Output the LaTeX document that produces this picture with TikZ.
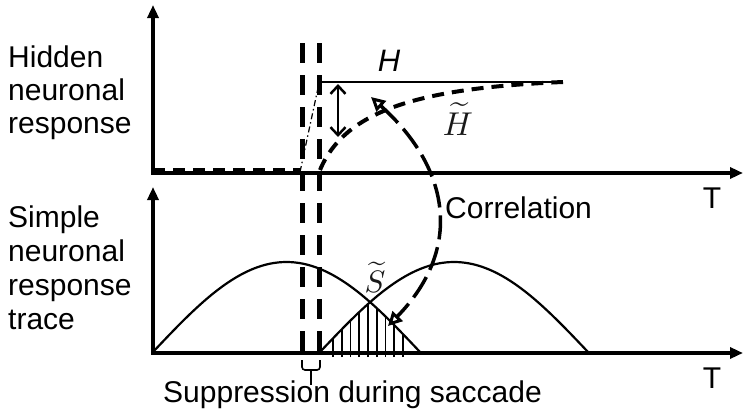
\documentclass[tikz,border=0pt]{standalone}
\usepackage{fontspec}
\usepackage{graphicx}
\setmainfont{Liberation Sans}
\usetikzlibrary{arrows.meta}
\newcommand{\bigmath}[2]{\scalebox{#1}{$\widetilde{#2}$}}
\begin{document}
\begin{tikzpicture}[x=1pt,y=-1pt,
  axis/.style={line width=3.5pt, line join=miter, {Triangle[length=13pt,width=11pt]}-{Triangle[length=13pt,width=11pt]}},
  vdash/.style={line width=5pt, dash pattern=on 20pt off 12pt},
  hdash/.style={line width=4pt, dash pattern=on 12pt off 8pt},
  corr/.style={line width=3.5pt, dash pattern=on 24pt off 8pt},
  thinline/.style={line width=2.2pt},
  lbl/.style={font=\fontsize{30}{33}\selectfont, inner sep=0pt},
  mlbl/.style={inner sep=0pt, text=black!90}
]
\useasboundingbox (0,0) rectangle (744,415);

% ---- axes ----
\coordinate (y1) at (153,5);
\coordinate (o1) at (153,173);
\coordinate (x1) at (743,173);
\coordinate (y2) at (153,187);
\coordinate (o2) at (153,353);
\coordinate (x2) at (743,353);
\draw[axis] (y1) -- (o1) -- (x1);
\draw[axis] (y2) -- (o2) -- (x2);

% ---- axis labels ----
\node[lbl, align=left, anchor=north west] (hid) at (8,46) {Hidden\\neuronal\\response};
\node[lbl, font=\fontsize{30}{34}\selectfont, align=left, anchor=north west] (sim) at (8,206) {Simple\\neuronal\\response\\trace};
\node[lbl] (T1) at (712,198) {T};
\node[lbl] (T2) at (712,378) {T};

% ---- top plot ----
\coordinate (b0) at (153,170);
\coordinate (b1) at (300,170);
\draw[hdash] (b0) -- (b1);

\coordinate (v1t) at (302,43);
\coordinate (v1b) at (302,360);
\coordinate (v2t) at (319,43);
\coordinate (v2b) at (319,360);
\draw[vdash] (v1t) -- (v1b);
\draw[vdash] (v2t) -- (v2b);

\coordinate (dd0) at (300,172);
\coordinate (dd1) at (318,88);
\draw[line width=1.2pt, dash pattern=on 6pt off 3pt on 1.5pt off 3pt] (dd0) -- (dd1);

\coordinate (h0) at (320,91);
\coordinate (h1) at (320,82);
\coordinate (h2) at (563,82);
\draw[line width=2.5pt, line join=miter] (h0) -- (h1) -- (h2);
\node[lbl, font=\fontsize{31}{33}\selectfont\itshape] (H) at (389,61) {H};

\coordinate (da0) at (338,84);
\coordinate (da1) at (338,137);
\draw[line width=2.5pt, {Straight Barb[length=8pt,width=15pt]}-{Straight Barb[length=8pt,width=15pt]}] (da0) -- (da1);

\coordinate (ht0) at (320,170);
\draw[hdash] (ht0) .. controls (345,110) and (420,88) .. (h2);
\node[mlbl] (Ht) at (458,119) {\bigmath{3.3}{H}};

% ---- correlation arrow ----
\coordinate (c0) at (371,97);
\coordinate (c1) at (388,326);
\draw[corr, {Triangle[open,length=14pt,width=14pt,line width=3pt]}-{Triangle[open,length=14pt,width=14pt,line width=3pt]}] (c0) .. controls (452,170) and (462,250) .. (c1);
\node[lbl, anchor=west] (corrlbl) at (445,208) {Correlation};

% ---- bottom plot ----
\draw[thinline] plot[domain=153:420, samples=80] (\x, {352-90*sin((\x-153)/267*180)});
\draw[thinline] plot[domain=320:588, samples=80] (\x, {352-90*sin((\x-320)/268*180)});
\foreach \hx in {333,341.75,350.5,359.25,368,376.75,385.5,394.25,403} {
  \pgfmathsetmacro\ya{352-90*sin((\hx-153)/267*180)}
  \pgfmathsetmacro\yb{352-90*sin((\hx-320)/268*180)}
  \pgfmathsetmacro\yt{max(\ya,\yb)}
  \draw[line width=1.6pt] (\hx,357) -- (\hx,\yt);
}
\node[mlbl] (St) at (375,277) {\bigmath{3.1}{S}};

% ---- suppression bracket ----
\coordinate (s0) at (302,360);
\coordinate (s1) at (302,370);
\coordinate (s2) at (320,370);
\coordinate (s3) at (320,360);
\coordinate (sm) at (311,370);
\coordinate (sb) at (311,385);
\draw[line width=1.6pt, rounded corners=3pt] (s0) -- (s1) -- (s2) -- (s3);
\draw[line width=1.6pt] (sm) -- (sb);
\node[lbl, anchor=base west] (supp) at (163,402) {Suppression during saccade};
\end{tikzpicture}
\end{document}
